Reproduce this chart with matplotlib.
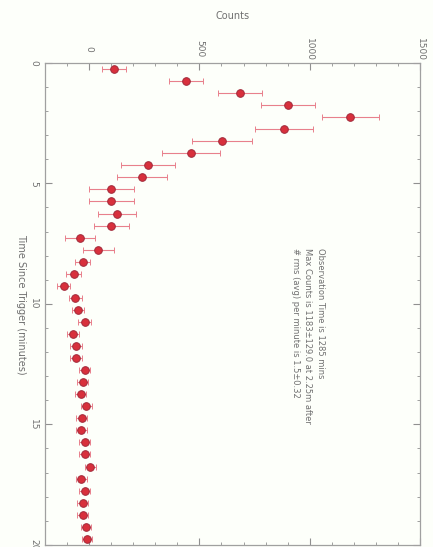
import matplotlib
matplotlib.use("Agg")
import matplotlib.pyplot as plt
import numpy as np
from matplotlib.ticker import MultipleLocator

# light curve, 0.5 minute bins
time_min = np.arange(40) * 0.5 + 0.25
counts = [113, 440, 684, 902, 1183, 884, 603, 462, 267, 240,
          100, 100, 127, 100, -41, 41, -29, -70, -115, -63,
          -51, -21, -75, -59, -59, -21, -29, -39, -14, -33,
          -36, -21, -21, 5, -36, -21, -29, -29, -14, -9]
count_err = [53, 76, 101, 124, 129, 131, 136, 131, 121, 113,
             102, 102, 87, 79, 68, 71, 35, 33, 30, 30,
             28, 28, 27, 27, 27, 26, 26, 26, 25, 25,
             25, 25, 25, 25, 24, 24, 24, 24, 24, 24]

info_lines = ["Observation Time is 1285 mins",
              "Max Counts is 1183\u00b1129.0 at 2.25m after",
              "# rms (avg) per minute is 1.5\u00b10.32"]

fig = plt.figure(figsize=(4.33, 5.47), dpi=100)
fig.patch.set_facecolor("#fdfffa")
ax = fig.add_axes([0.104, 0.004, 0.866, 0.881])
ax.set_facecolor("#fdfffa")

ax.errorbar(counts, time_min, xerr=count_err, fmt="o", color="#d8303c",
            markersize=5.5, markeredgecolor="#a02a3a", markeredgewidth=0.7,
            ecolor="#e8808c", elinewidth=0.8, capsize=2, capthick=0.7)

ax.set_xlim(-200, 1500)
ax.set_ylim(20, 0)
ax.xaxis.set_major_locator(MultipleLocator(500))
ax.xaxis.set_minor_locator(MultipleLocator(100))
ax.yaxis.set_major_locator(MultipleLocator(5))
ax.yaxis.set_minor_locator(MultipleLocator(1))
ax.xaxis.tick_top()
ax.xaxis.set_label_position("top")
ax.tick_params(which="both", direction="in", top=True, bottom=True,
               left=True, right=True, color="#909090", labelcolor="#707070",
               labelsize=6.5)
ax.tick_params(which="major", length=5)
ax.tick_params(which="minor", length=2.5)
for lab in ax.get_xticklabels() + ax.get_yticklabels():
    lab.set_rotation(270)
    lab.set_va("center")
    lab.set_ha("center")
ax.tick_params(axis="x", pad=10)
ax.tick_params(axis="y", pad=8)
for sp in ax.spines.values():
    sp.set_color("#a0a0a0")
    sp.set_linewidth(0.9)

ax.set_xlabel("Counts", fontsize=7, color="#707070", labelpad=13)
ax.set_ylabel("Time Since Trigger (minutes)", fontsize=7, color="#707070",
              rotation=270, labelpad=10)

for i, line in enumerate(info_lines):
    ax.text(1050 - i * 58, 7.7, line, rotation=270, fontsize=6,
            color="#707070", ha="center", va="top")

fig.savefig("out.png", dpi=100, facecolor=fig.get_facecolor())
